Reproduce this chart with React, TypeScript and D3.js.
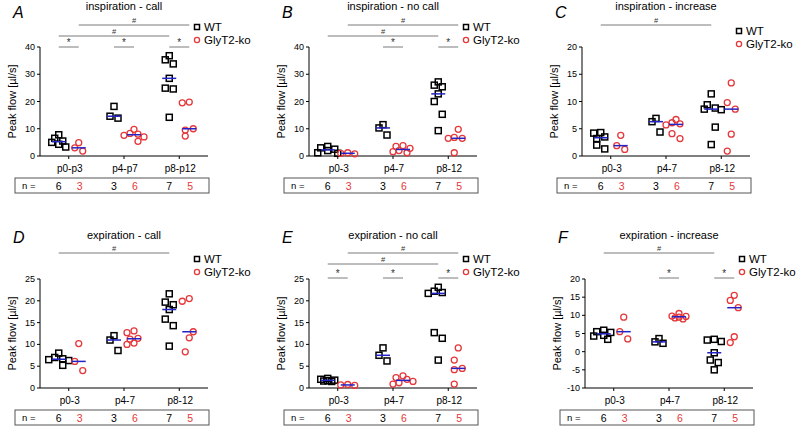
import React from 'react';
import * as d3 from 'd3';

// categories / n per group
const catsA = ['p0-p3', 'p4-p7', 'p8-p12'];
const catsShort = ['p0-3', 'p4-7', 'p8-12'];
const nWT = [6, 3, 7];
const nKO = [3, 6, 5];

// peak flow values [µl/s], one array per age group
const aWT = [[7.8, 6.5, 5.5, 5.0, 4.3, 3.3], [18.2, 13.9, 14.6], [36.8, 35.3, 33.8, 28.5, 24.9, 24.6, 14.2]];
const aKO = [[4.9, 1.8, 3.0], [9.8, 8.3, 8.0, 7.6, 5.4, 7.0], [19.5, 19.8, 10.0, 9.5, 7.3]];
const bWT = [[3.5, 3.0, 2.5, 2.0, 1.2, 1.0], [11.5, 10.3, 7.7], [27.2, 26.0, 25.4, 22.8, 20.0, 15.3, 9.3]];
const bKO = [[1.0, 0.8, 1.2], [3.8, 3.5, 2.8, 1.6, 1.2, 2.0], [9.8, 6.5, 6.5, 6.8, 1.2]];
const cWT = [[4.3, 4.2, 3.5, 3.2, 2.0, 1.3], [6.9, 6.3, 4.4], [11.4, 9.4, 8.8, 8.6, 8.5, 5.3, 2.1]];
const cKO = [[3.8, 1.2, 1.9], [6.7, 6.1, 5.7, 5.9, 3.2, 4.1], [13.4, 9.8, 8.6, 4.0, 0.9]];
const dWT = [[8.0, 5.2, 6.7, 6.5, 7.0, 6.3], [12.0, 11.0, 8.6], [21.6, 19.7, 19.1, 18.0, 15.8, 14.3, 9.6]];
const dKO = [[10.2, 6.1, 4.0], [13.1, 12.7, 10.0, 10.3, 11.2, 11.4], [19.9, 20.5, 12.9, 11.5, 8.3]];
const eWT = [[2.2, 2.0, 1.8, 1.7, 1.5, 1.6], [9.2, 7.5, 6.2], [23.1, 22.2, 21.9, 21.7, 12.7, 11.4, 6.4]];
const eKO = [[0.7, 0.6, 0.8], [2.8, 2.4, 2.0, 1.5, 1.2, 0.9], [9.2, 6.4, 4.5, 4.2, 0.9]];
const fWT = [[5.9, 5.5, 5.3, 4.5, 4.3, 3.4], [3.6, 2.3, 2.7], [3.2, 3.4, 2.8, -0.3, -2.3, -3.0, -5.0]];
const fKO = [[9.5, 5.5, 3.5], [10.5, 9.8, 9.5, 9.3, 9.0, 9.7], [15.5, 14.1, 12.1, 4.1, 2.5]];

// significance bars: [fromCat, fromGroup, toCat, toGroup, level, label]  (group 0 = WT, 1 = KO)
const sigA = [[0, 1, 2, 1, 0, '#'], [0, 0, 2, 0, 1, '#'], [0, 0, 0, 1, 2, '*'], [1, 0, 1, 1, 2, '*'], [2, 0, 2, 1, 2, '*']];
const sigB = [[0, 1, 2, 1, 0, '#'], [0, 0, 2, 0, 1, '#'], [1, 0, 1, 1, 2, '*'], [2, 0, 2, 1, 2, '*']];
const sigC = [[0, 0, 2, 0, 0, '#']];
const sigD = [[0, 0, 2, 0, 0, '#']];
const sigE = [[0, 1, 2, 1, 0, '#'], [0, 0, 2, 0, 1, '#'], [0, 0, 0, 1, 2, '*'], [1, 0, 1, 1, 2, '*'], [2, 0, 2, 1, 2, '*']];
const sigF = [[0, 0, 2, 0, 0, '#'], [1, 0, 1, 1, 2, '*'], [2, 0, 2, 1, 2, '*']];

const FONT = '"Liberation Sans", Arial, Helvetica, sans-serif';
const RED = '#e5383b';
const BLUE = '#2323c8';
const GREY = '#7a7a7a';

const rows = [
  { y: 0, letterY: 18, titleY: 10, levels: [25, 36, 47] },
  { y: 232, letterY: 11, titleY: 7, levels: [21, 32, 46] },
];

const panels = [
  { letter: 'A', title: 'inspiration - call', x: 40, row: 0, cats: catsA, wt: aWT, ko: aKO, dom: [0, 40], step: 10, sig: sigA, legY: 27 },
  { letter: 'B', title: 'inspiration - no call', x: 309, row: 0, cats: catsShort, wt: bWT, ko: bKO, dom: [0, 40], step: 10, sig: sigB, legY: 27 },
  { letter: 'C', title: 'inspiration - increase', x: 582, row: 0, cats: catsShort, wt: cWT, ko: cKO, dom: [0, 20], step: 5, sig: sigC, legY: 31 },
  { letter: 'D', title: 'expiration - call', x: 40, row: 1, cats: catsShort, wt: dWT, ko: dKO, dom: [0, 25], step: 5, sig: sigD, legY: 27 },
  { letter: 'E', title: 'expiration - no call', x: 309, row: 1, cats: catsShort, wt: eWT, ko: eKO, dom: [0, 25], step: 5, sig: sigE, legY: 27 },
  { letter: 'F', title: 'expiration - increase', x: 585, row: 1, cats: catsShort, wt: fWT, ko: fKO, dom: [-10, 20], step: 5, sig: sigF, legY: 27 },
];

const W = 168;
const TOP = 47;
const BOT = 156;
const GROUP_OFF = [-10, 10];

// light jitter by rank, pushed further sideways where markers would collide
function swarm(vals, y) {
  const placed = [];
  const order = vals.map((v, i) => i).sort((a, b) => vals[b] - vals[a]);
  const out = new Array(vals.length);
  const pref = [0, -4, 4];
  order.forEach((i, rank) => {
    const py = y(vals[i]);
    const first = pref[rank % 3];
    const cands = [first, 0, -4, 4, -7, 7, -10, 10];
    let dx = first;
    for (const c of cands) {
      if (placed.every((p) => Math.hypot(p[0] - c, p[1] - py) >= 5)) { dx = c; break; }
    }
    placed.push([dx, py]);
    out[i] = dx;
  });
  return out;
}

function Panel({ p }) {
  const row = rows[p.row];
  const x = d3.scalePoint().domain(p.cats).range([0, W]).padding(0.52);
  const y = d3.scaleLinear().domain(p.dom).range([BOT, TOP]);
  const ticks = d3.range(p.dom[0], p.dom[1] + 0.01, p.step);
  const gx = (ci, g) => x(p.cats[ci]) + GROUP_OFF[g];

  return (
    <g transform={`translate(${p.x},${row.y})`} fontFamily={FONT}>
      <text x={-27} y={row.letterY} fontSize={16} fontStyle="italic">{p.letter}</text>
      <text x={W / 2} y={row.titleY} fontSize={11} textAnchor="middle">{p.title}</text>

      {/* significance bars */}
      {p.sig.map((s, i) => {
        const x1 = gx(s[0], s[1]);
        const x2 = gx(s[2], s[3]);
        const ly = row.levels[s[4]];
        return (
          <g key={i}>
            <line x1={x1} x2={x2} y1={ly} y2={ly} stroke={GREY} strokeWidth={1} />
            <text x={(x1 + x2) / 2} y={s[5] === '*' ? ly - 1 : ly - 2} fontSize={s[5] === '*' ? 10 : 7.5}
              textAnchor="middle" fill="#333">{s[5]}</text>
          </g>
        );
      })}

      {/* legend */}
      <rect x={W - 13.5} y={p.legY - 2.5} width={5} height={5} fill="none" stroke="#000" strokeWidth={1.5} />
      <text x={W - 4} y={p.legY + 4} fontSize={11.5}>WT</text>
      <circle cx={W - 11} cy={p.legY + 13} r={2.6} fill="none" stroke={RED} strokeWidth={1.3} />
      <text x={W - 4} y={p.legY + 17} fontSize={11.5}>GlyT2-ko</text>

      {/* y axis */}
      <line x1={0} x2={0} y1={TOP} y2={BOT} stroke="#000" />
      {ticks.map((t) => (
        <g key={t} transform={`translate(0,${y(t)})`}>
          <line x1={-3} x2={0} stroke="#000" />
          <text x={-5} dy="0.34em" fontSize={9} textAnchor="end">{t}</text>
        </g>
      ))}
      <text transform={`translate(-24,${(TOP + BOT) / 2}) rotate(-90)`} fontSize={11} textAnchor="middle">
        Peak flow [µl/s]
      </text>

      {/* x axis */}
      <line x1={0} x2={W} y1={BOT} y2={BOT} stroke="#000" />
      {p.cats.map((c) => (
        <g key={c} transform={`translate(${x(c)},${BOT})`}>
          <line y1={0} y2={3} stroke="#000" />
          <text x={1} y={16} fontSize={10} textAnchor="middle">{c}</text>
        </g>
      ))}

      {/* points */}
      {p.wt.map((vals, ci) => {
        const off = swarm(vals, y);
        return vals.map((v, i) => (
          <rect key={`w${ci}-${i}`} x={gx(ci, 0) + off[i] - 3} y={y(v) - 3} width={6} height={6}
            fill="none" stroke="#000" strokeWidth={1.5} />
        ));
      })}
      {p.ko.map((vals, ci) => {
        const off = swarm(vals, y);
        return vals.map((v, i) => (
          <circle key={`k${ci}-${i}`} cx={gx(ci, 1) + off[i]} cy={y(v)} r={3}
            fill="none" stroke={RED} strokeWidth={1.3} />
        ));
      })}
      {/* medians */}
      {[p.wt, p.ko].map((grp, g) => grp.map((vals, ci) => {
        const m = d3.median(vals);
        return <line key={`m${g}-${ci}`} x1={gx(ci, g) - 7} x2={gx(ci, g) + 7} y1={y(m)} y2={y(m)}
          stroke={BLUE} strokeWidth={1.5} />;
      }))}

      {/* n table */}
      <rect x={-25} y={178} width={W + 26} height={15} fill="none" stroke="#555" strokeWidth={1} />
      <text x={-18} y={189} fontSize={9.5}>n =</text>
      {p.cats.map((c, ci) => (
        <g key={`n${c}`}>
          <text x={gx(ci, 0)} y={189.5} fontSize={10.5} textAnchor="middle">{nWT[ci]}</text>
          <text x={gx(ci, 1) + 1} y={189.5} fontSize={10.5} textAnchor="middle" fill={RED}>{nKO[ci]}</text>
        </g>
      ))}
    </g>
  );
}

export default function App() {
  return (
    <svg width={800} height={426} style={{ position: 'absolute', left: 0, top: 0, background: '#fff' }}>
      {panels.map((p) => <Panel key={p.letter} p={p} />)}
    </svg>
  );
}
